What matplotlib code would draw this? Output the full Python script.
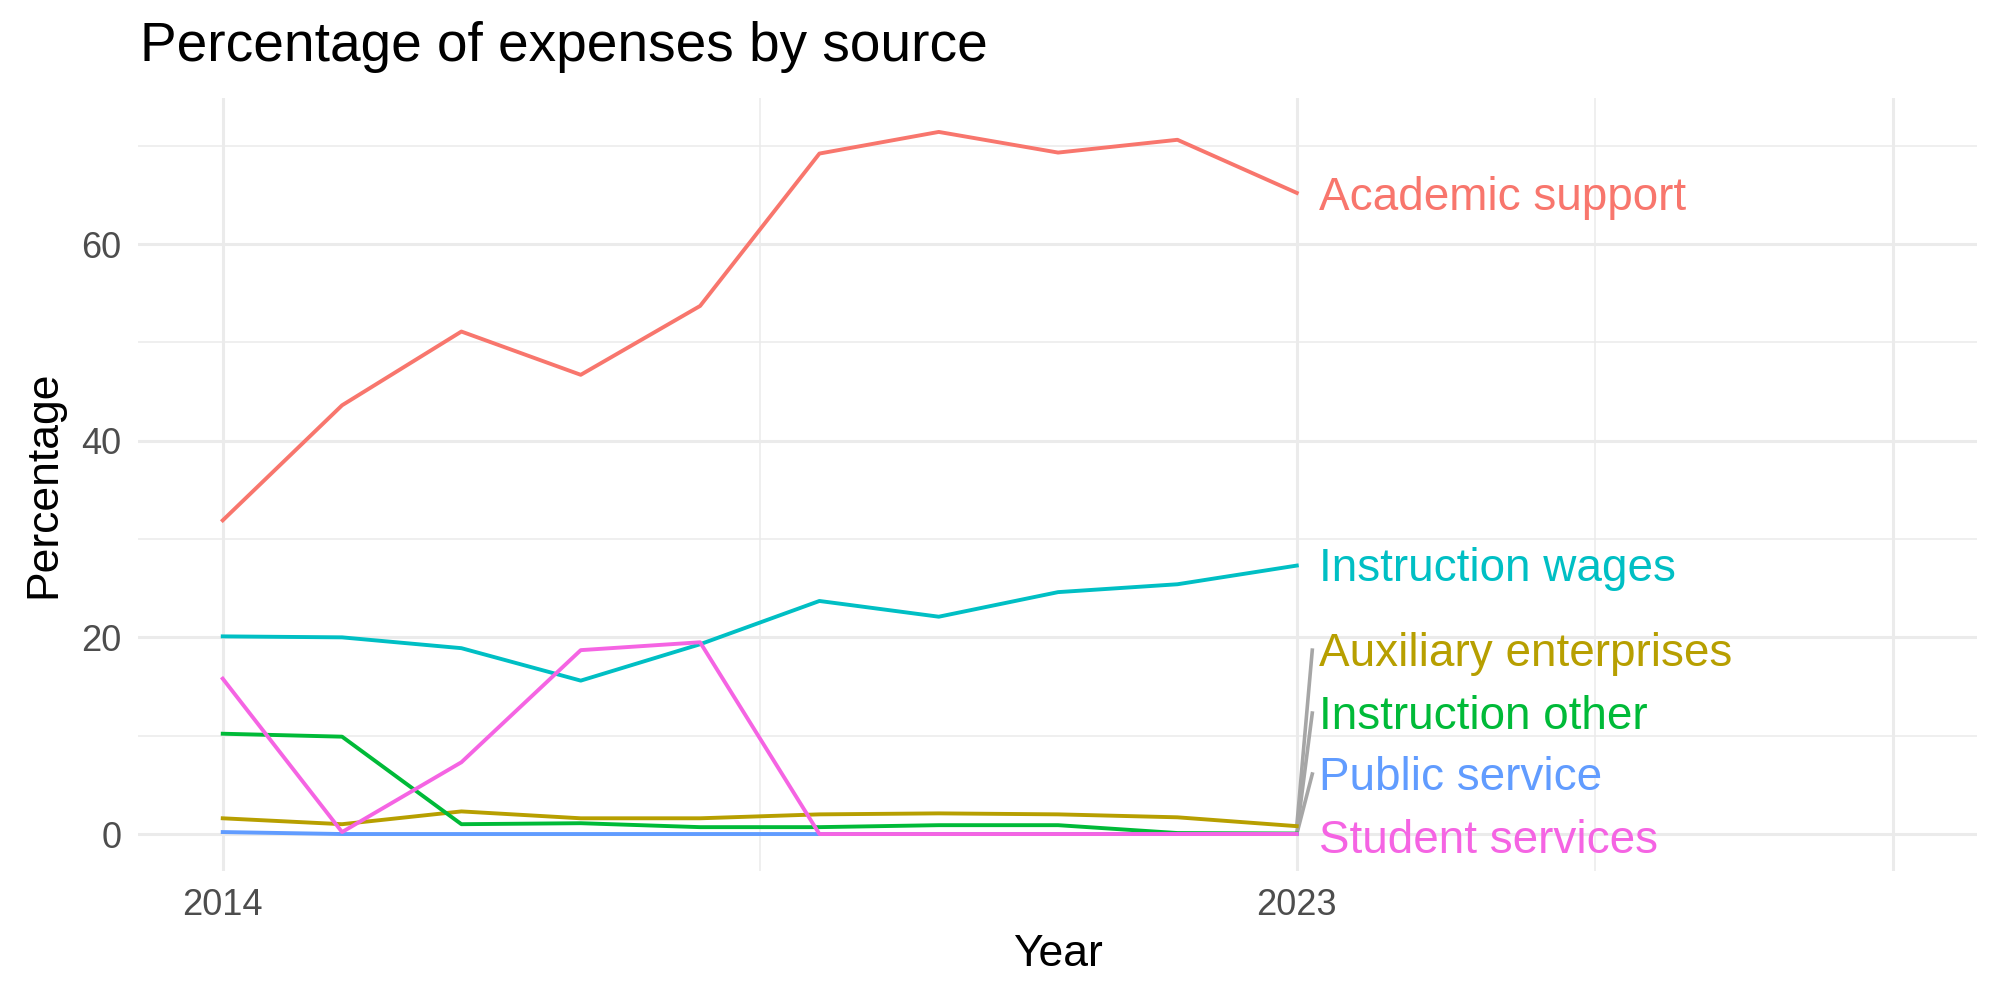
import matplotlib.pyplot as plt
from matplotlib.ticker import MultipleLocator

plt.rcParams['font.family'] = ['Liberation Sans', 'DejaVu Sans']

years = [2014, 2015, 2016, 2017, 2018, 2019, 2020, 2021, 2022, 2023]

sources = ["Academic support", "Auxiliary enterprises", "Instruction other",
           "Instruction wages", "Public service", "Student services"]
colors = ["#F8766D", "#B79F00", "#00BA38", "#00BFC4", "#619CFF", "#F564E3"]

academic_support = [31.9, 43.6, 51.1, 46.7, 53.7, 69.2, 71.4, 69.3, 70.6, 65.2]
auxiliary_enterprises = [1.6, 1.0, 2.3, 1.6, 1.6, 2.0, 2.1, 2.0, 1.7, 0.8]
instruction_other = [10.2, 9.9, 1.0, 1.1, 0.7, 0.7, 0.9, 0.9, 0.1, 0.05]
instruction_wages = [20.1, 20.0, 18.9, 15.6, 19.3, 23.7, 22.1, 24.6, 25.4, 27.3]
public_service = [0.2, 0.0, 0.0, 0.0, 0.0, 0.0, 0.0, 0.0, 0.0, 0.0]
student_services = [15.8, 0.2, 7.3, 18.7, 19.5, 0.0, 0.0, 0.0, 0.0, 0.0]

series = [academic_support, auxiliary_enterprises, instruction_other,
          instruction_wages, public_service, student_services]

# label heights after repel
label_y = [64.7, 18.3, 11.9, 27.0, 5.7, -0.7]

fig = plt.figure(figsize=(10, 5), dpi=200)
ax = fig.add_axes([0.069, 0.129, 0.9195, 0.773])

for name, vals, col, ly in zip(sources, series, colors, label_y):
    ax.plot(years, vals, color=col, lw=1.4, zorder=3)
    if abs(ly - vals[-1]) > 2:
        ax.plot([years[-1], years[-1] + 0.13], [vals[-1], ly + 0.4],
                color="#A6A6A6", lw=1.3, zorder=2)
    ax.text(years[-1] + 0.19, ly, name, color=col, fontsize=16.5,
            va="center", ha="left", zorder=4)

ax.set_xlim(2013.29, 2028.7)
ax.set_ylim(-3.76, 74.85)
ax.set_xticks([2014, 2023, 2028])
ax.set_xticklabels(["2014", "2023", ""])
ax.set_xticks([2018.5, 2025.5], minor=True)
ax.yaxis.set_major_locator(MultipleLocator(20))
ax.yaxis.set_minor_locator(MultipleLocator(10))

ax.grid(which="major", color="#EBEBEB", lw=1.1)
ax.grid(which="minor", color="#EBEBEB", lw=0.55)
ax.set_axisbelow(True)
for s in ax.spines.values():
    s.set_visible(False)
ax.tick_params(which="both", length=0, labelsize=13, labelcolor="#4D4D4D", pad=6)

ax.set_xlabel("Year", fontsize=16, labelpad=4)
ax.set_ylabel("Percentage", fontsize=16, labelpad=6)
fig.text(0.07, 0.953, "Percentage of expenses by source", fontsize=19.8,
         va="center", ha="left")

fig.savefig("out.png", dpi=200)
